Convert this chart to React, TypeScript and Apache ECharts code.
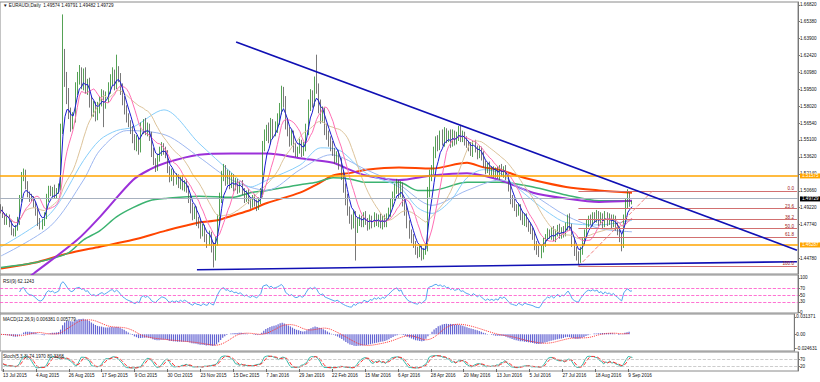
import React, { useEffect, useRef } from "react";
import * as echarts from "echarts";

// ---------- data (prices in 0.001 units above 1.4000) ----------
const dateLabels = [
  "13 Jul 2015", "4 Aug 2015", "26 Aug 2015", "17 Sep 2015", "9 Oct 2015", "30 Oct 2015",
  "23 Nov 2015", "15 Dec 2015", "7 Jan 2016", "29 Jan 2016", "22 Feb 2016", "15 Mar 2016",
  "6 Apr 2016", "28 Apr 2016", "20 May 2016", "13 Jun 2016", "5 Jul 2016", "27 Jul 2016",
  "18 Aug 2016", "9 Sep 2016",
];
const firstOpenK = 92;
const closeK = [
  90, 85, 80, 83, 78, 72, 70, 74, 80, 100, 118, 122, 112, 104, 100, 99,
  95, 88, 80, 76, 78, 85, 100, 108, 105, 108, 103, 106, 110, 160, 215, 205,
  190, 175, 165, 170, 195, 205, 210, 200, 208, 195, 200, 185, 175, 180, 172, 178,
  185, 190, 182, 188, 195, 203, 208, 200, 210, 205, 195, 185, 178, 170, 165, 160,
  152, 145, 150, 143, 160, 165, 158, 162, 155, 140, 132, 128, 135, 140, 145, 142,
  138, 125, 118, 122, 115, 118, 112, 116, 110, 113, 108, 100, 92, 85, 90, 80,
  78, 70, 74, 66, 62, 68, 58, 50, 62, 80, 100, 118, 125, 115, 120, 112,
  118, 110, 114, 108, 112, 106, 100, 104, 98, 95, 100, 96, 93, 98, 105, 145,
  155, 160, 152, 165, 158, 162, 168, 178, 192, 185, 165, 158, 150, 155, 145, 140,
  142, 148, 140, 145, 160, 180, 190, 185, 200, 195, 180, 170, 175, 160, 155, 150,
  145, 140, 135, 138, 130, 120, 110, 100, 90, 82, 78, 85, 75, 80, 82, 78,
  85, 80, 76, 82, 78, 84, 79, 83, 77, 82, 78, 84, 88, 95, 102, 108,
  112, 105, 110, 98, 90, 78, 70, 65, 60, 55, 52, 56, 50, 54, 57, 105,
  120, 125, 140, 150, 145, 155, 150, 158, 152, 155, 148, 156, 150, 154, 160, 152,
  155, 150, 147, 145, 140, 147, 143, 138, 142, 137, 130, 125, 128, 123, 125, 121,
  124, 120, 126, 122, 125, 119, 110, 100, 96, 92, 88, 92, 85, 80, 84, 78,
  75, 72, 68, 60, 55, 52, 56, 62, 66, 70, 68, 72, 66, 70, 74, 68,
  72, 70, 76, 82, 75, 62, 55, 50, 47, 55, 62, 70, 78, 82, 80, 85,
  82, 86, 80, 84, 78, 85, 80, 83, 78, 82, 76, 72, 66, 60, 82, 95,
  103, 95.74, 97.29,
];
const wickUp = [
  3, 3, 2, 4, 3, 3, 2, 3, 4, 3, 5, 4, 3, 3, 2, 4,
  3, 2, 3, 3, 4, 3, 4, 3, 3, 2, 4, 3, 3, 5, 45, 15,
  5, 6, 4, 5, 6, 5, 6, 4, 5, 6, 4, 5, 4, 5, 4, 6,
  4, 5, 4, 5, 6, 5, 6, 4, 15, 5, 4, 5, 4, 3, 4, 3,
  3, 4, 5, 3, 6, 4, 5, 4, 3, 3, 4, 3, 4, 5, 4, 3,
  3, 4, 3, 4, 3, 4, 3, 3, 4, 3, 4, 3, 3, 4, 3, 3,
  4, 3, 4, 3, 3, 4, 3, 4, 5, 6, 5, 6, 5, 4, 5, 4,
  4, 3, 4, 3, 3, 4, 3, 3, 4, 3, 3, 4, 3, 3, 4, 5,
  5, 4, 6, 5, 4, 5, 6, 5, 6, 5, 4, 5, 4, 5, 4, 3,
  3, 4, 3, 4, 5, 6, 5, 4, 6, 25, 5, 6, 5, 4, 5, 4,
  4, 5, 4, 3, 4, 5, 4, 3, 4, 3, 4, 5, 4, 3, 4, 3,
  3, 4, 3, 4, 3, 4, 3, 3, 4, 3, 4, 3, 4, 5, 4, 5,
  5, 4, 5, 4, 3, 4, 3, 3, 4, 3, 3, 4, 3, 3, 4, 5,
  5, 4, 5, 4, 5, 4, 5, 4, 3, 4, 5, 4, 3, 4, 3, 4,
  4, 3, 4, 3, 4, 3, 4, 3, 4, 3, 4, 3, 3, 4, 3, 3,
  3, 4, 3, 4, 3, 4, 3, 4, 3, 4, 3, 4, 3, 4, 3, 3,
  3, 4, 3, 4, 3, 4, 3, 4, 3, 4, 3, 3, 4, 3, 3, 4,
  3, 4, 3, 4, 5, 3, 4, 3, 4, 3, 4, 3, 4, 3, 4, 3,
  3, 4, 3, 4, 3, 4, 3, 4, 3, 4, 3, 3, 4, 3, 4, 5,
  5, 2, 0.62,
];
const wickDn = [
  3, 2, 3, 3, 3, 4, 3, 3, 2, 3, 3, 3, 4, 3, 3, 2,
  3, 3, 4, 3, 3, 2, 3, 3, 3, 4, 3, 3, 2, 3, 4, 8,
  8, 6, 7, 5, 4, 5, 6, 5, 6, 4, 5, 6, 5, 4, 5, 4,
  4, 5, 20, 4, 5, 4, 5, 6, 5, 4, 5, 4, 5, 4, 3, 4,
  4, 3, 4, 5, 3, 4, 3, 4, 5, 4, 3, 5, 4, 3, 3, 4,
  3, 3, 4, 3, 4, 3, 3, 4, 3, 4, 3, 4, 5, 4, 3, 4,
  4, 5, 3, 4, 5, 3, 5, 10, 4, 3, 3, 4, 3, 4, 3, 4,
  3, 4, 3, 4, 3, 3, 4, 3, 3, 4, 3, 3, 4, 3, 3, 4,
  4, 5, 4, 5, 6, 4, 5, 4, 5, 6, 5, 4, 5, 4, 5, 4,
  4, 3, 4, 3, 4, 5, 4, 6, 5, 4, 6, 5, 4, 5, 4, 5,
  4, 3, 5, 4, 5, 4, 5, 6, 5, 4, 5, 4, 29, 5, 4, 3,
  3, 3, 4, 3, 4, 3, 3, 4, 3, 4, 3, 3, 3, 4, 3, 4,
  4, 5, 4, 5, 5, 4, 5, 4, 3, 4, 4, 3, 4, 3, 3, 3,
  4, 5, 4, 5, 4, 3, 4, 5, 4, 3, 4, 3, 4, 3, 4, 3,
  3, 4, 3, 4, 3, 4, 3, 4, 3, 4, 3, 4, 3, 3, 4, 3,
  3, 3, 4, 3, 4, 3, 4, 5, 4, 3, 4, 3, 4, 3, 4, 3,
  4, 3, 4, 5, 4, 3, 4, 3, 4, 3, 3, 4, 3, 4, 3, 3,
  3, 4, 3, 4, 3, 4, 5, 4, 5, 3, 4, 3, 4, 3, 3, 4,
  3, 3, 4, 3, 4, 3, 4, 3, 4, 3, 4, 4, 4, 6, 3, 4,
  4, 3, 0.92,
];
// slow moving averages: [bar index, value in 0.001 above 1.4]
const purpleMA = [[0, 13], [16, 35], [37, 64], [48, 84], [64, 116], [72, 125], [80, 131], [96, 138], [112, 139], [129, 139], [145, 135], [161, 131], [169, 125], [177, 120], [193, 116], [209, 120], [226, 122], [242, 116], [258, 105], [274, 100], [290, 97], [306, 98]];
const greenMA = [[0, 40], [16, 44], [32, 52], [40, 64], [48, 72], [56, 84], [64, 92], [72, 98], [80, 100], [96, 102], [112, 101], [121, 105], [129, 107], [145, 112], [153, 114], [161, 118], [169, 117], [177, 114], [193, 114], [202, 107], [209, 107], [226, 114], [242, 114], [258, 110], [274, 103], [290, 98], [306, 98]];
const redMA = [[0, 39], [16, 44], [32, 52], [48, 58], [64, 64], [80, 72], [96, 79], [105, 81], [112, 85], [121, 90], [129, 96], [145, 105], [153, 112], [161, 120], [169, 122], [177, 125], [193, 127], [209, 126], [226, 131], [234, 127], [242, 125], [250, 120], [258, 116], [274, 110], [290, 107], [306, 105]];
const lightBlueA = [[0, 58], [24, 87], [40, 133], [48, 151], [56, 159], [64, 162], [79, 177], [96, 148], [112, 122], [121, 110], [129, 116], [145, 129], [155, 144], [164, 142], [177, 122], [193, 110], [202, 92], [209, 87], [218, 98], [226, 118], [234, 125], [242, 122], [250, 110], [258, 98], [266, 87], [274, 79], [290, 77], [306, 81]];
const lightBlueB = [[0, 50], [24, 76], [40, 116], [48, 142], [61, 159], [80, 155], [96, 136], [112, 116], [129, 107], [145, 125], [160, 138], [177, 125], [193, 112], [209, 94], [226, 107], [242, 116], [258, 103], [274, 85], [290, 74], [306, 71]];

const priceTicks = [1.6682, 1.6538, 1.639, 1.6242, 1.6098, 1.595, 1.5802, 1.5654, 1.551, 1.5362, 1.5214, 1.5066, 1.4922, 1.4774, 1.4478, 1.4334];
const levelLines = [1.51575, 1.46287];
const fibLow = 1.441;
const fibHigh = 1.5066;
const fibStartBar = 280;
const fibEndBar = 316;
const fibRatios = [0, 23.6, 38.2, 50, 61.8, 100];
const trendUpper = [[114, 1.636], [386, 1.455]];
const trendLower = [[95, 1.438], [386, 1.445]];
const rsiLevels = [70, 50, 30];
const rsiTicks = [100, 70, 50, 30, 0];
const macdTicks = [0.031371, 0, -0.024631];
const stochLevels = [70, 20];
const stochTicks = [100, 70, 20, 0];
const panelTitles = ["RSI(9) 62.1243", "MACD(12,26,9) 0.006381 0.005779", "Stoch(5,3,3) 74.1970 80.3368"];

// ---------- helpers ----------
const N = 387;
const FONT = "Liberation Sans, DejaVu Sans, sans-serif";
const FS = 4.6;
const P = (k: number) => 1.4 + k / 1000;

function sma(a: number[], n: number) {
  return a.map((_, i) => {
    const s = Math.max(0, i - n + 1);
    let t = 0;
    for (let j = s; j <= i; j++) t += a[j];
    return t / (i - s + 1);
  });
}
function ema(a: number[], n: number) {
  const k = 2 / (n + 1);
  const out: number[] = [];
  a.forEach((v, i) => out.push(i === 0 ? v : out[i - 1] + k * (v - out[i - 1])));
  return out;
}
function rsi(c: number[], n: number) {
  const out: (number | null)[] = c.map(() => null);
  let ag = 0, al = 0;
  for (let i = 1; i < c.length; i++) {
    const d = c[i] - c[i - 1];
    const g = d > 0 ? d : 0, l = d < 0 ? -d : 0;
    if (i <= n) {
      ag += g / n; al += l / n;
      if (i < n) continue;
    } else {
      ag = (ag * (n - 1) + g) / n; al = (al * (n - 1) + l) / n;
    }
    out[i] = al === 0 ? 100 : 100 - 100 / (1 + ag / al);
  }
  return out;
}

function buildOption() {
  const cats = Array.from({ length: N }, (_, i) => String(i));
  const closes = closeK.map(P);
  const opens = closes.map((c, i) => (i === 0 ? P(firstOpenK) : closes[i - 1]));
  const highs = closes.map((c, i) => Math.max(opens[i], c) + wickUp[i] / 1000);
  const lows = closes.map((c, i) => Math.min(opens[i], c) - wickDn[i] / 1000);
  const last = closes.length - 1;
  const candles = closes.map((c, i) => [opens[i], c, lows[i], highs[i]]);

  const fast = ema(closes, 5);
  const pink = sma(closes, 10);
  const tan = sma(closes, 21);
  const rsiLine = rsi(closes, 9);
  const e12 = ema(closes, 12);
  const e26 = ema(closes, 26);
  const macd = e12.map((v, i) => v - e26[i]);
  const macdSig = sma(macd, 9);
  const kLine = closes.map((_, i) => {
    let num = 0, den = 0;
    for (let j = Math.max(0, i - 2); j <= i; j++) {
      const s = Math.max(0, j - 4);
      const ll = Math.min(...lows.slice(s, j + 1));
      const hh = Math.max(...highs.slice(s, j + 1));
      num += closes[j] - ll;
      den += hh - ll;
    }
    return den ? (num / den) * 100 : 50;
  });
  const dLine = sma(kLine, 3);

  const sampled = (arr: number[][]) => arr.map(([i, k]) => [i, P(k)]);
  const tickInterval = (i: number) => i % 16 === 0 && i / 16 < dateLabels.length;

  const grids = [
    { left: 0, top: 2, width: 798, height: 272 },
    { left: 0, top: 275, width: 798, height: 38 },
    { left: 0, top: 314, width: 798, height: 37 },
    { left: 0, top: 352, width: 798, height: 19 },
  ].map((g) => ({ ...g, show: true, borderColor: "#8a8a8a", borderWidth: 1, backgroundColor: "#fff" }));

  const xAxes = grids.map((_, g) => ({
    type: "category",
    gridIndex: g,
    data: cats,
    boundaryGap: true,
    axisLine: { show: false },
    axisTick: {
      show: g === 3, interval: tickInterval, alignWithLabel: true, length: 3,
      lineStyle: { color: "#666" },
    },
    axisLabel: {
      show: g === 3, interval: tickInterval, align: "left", margin: 2,
      fontSize: FS, fontFamily: FONT, color: "#111", lineHeight: 5,
      formatter: (_v: string, idx: number) => (idx % 16 === 0 ? dateLabels[idx / 16] || "" : ""),
    },
    splitLine: { show: false },
  }));

  const yBase = (g: number, min: number, max: number, ticks: number[], fmt: (v: number) => string) => ({
    type: "value",
    gridIndex: g,
    position: "right",
    min, max,
    splitLine: { show: false },
    axisLine: { show: true, lineStyle: { color: "#777" } },
    axisTick: { show: true, customValues: ticks, length: 2, lineStyle: { color: "#777" } },
    axisLabel: {
      customValues: ticks, formatter: fmt, fontSize: FS, fontFamily: FONT, color: "#111", margin: 2, lineHeight: 5,
    },
  });

  const yAxes = [
    yBase(0, 1.4343, 1.6708, priceTicks, (v) => v.toFixed(5)),
    yBase(1, -2.9, 108.8, rsiTicks, (v) => String(v)),
    yBase(2, -0.03005, 0.03679, macdTicks, (v) => (v === 0 ? "0.00" : v.toFixed(6))),
    yBase(3, -14, 121, stochTicks, (v) => String(v)),
  ];

  const boxLabel = (v: number, bg: string) => ({
    show: true, position: "end", formatter: v.toFixed(5), backgroundColor: bg, color: "#fff",
    fontSize: FS, fontFamily: FONT, padding: [0, 2, 0, 2], lineHeight: 5, distance: 2, offset: [0, 0.5],
  });

  const markData: any[] = [
    ...levelLines.map((v) => ({
      yAxis: v, lineStyle: { color: "#ffa500", width: 1.5, type: "solid" }, label: boxLabel(v, "#ffa500"),
    })),
    {
      yAxis: closes[last], lineStyle: { color: "#a7b1bf", width: 1, type: "solid" }, label: boxLabel(closes[last], "#000"),
    },
    ...fibRatios.map((r) => {
      const v = fibHigh - (r / 100) * (fibHigh - fibLow);
      return [
        {
          coord: [String(fibStartBar), v],
          lineStyle: { color: "#d27070", width: 1, type: "solid" },
          label: {
            show: true, position: "insideEndTop", formatter: r.toFixed(1), color: "#a02020",
            fontSize: FS, fontFamily: FONT, distance: [3, 0],
          },
        },
        { coord: [String(N - 1), v] },
      ];
    }),
    [
      { coord: [String(fibStartBar), fibLow], lineStyle: { color: "#f08080", width: 1, type: "dashed" }, label: { show: false } },
      { coord: [String(fibEndBar), fibHigh] },
    ],
    [
      { coord: [String(trendUpper[0][0]), trendUpper[0][1]], lineStyle: { color: "#1010b4", width: 1.6, type: "solid" }, label: { show: false } },
      { coord: [String(trendUpper[1][0]), trendUpper[1][1]] },
    ],
    [
      { coord: [String(trendLower[0][0]), trendLower[0][1]], lineStyle: { color: "#1010b4", width: 1.6, type: "solid" }, label: { show: false } },
      { coord: [String(trendLower[1][0]), trendLower[1][1]] },
    ],
  ];

  const line = (data: any[], color: string, width: number, z = 3, extra: any = {}) => ({
    type: "line", xAxisIndex: 0, yAxisIndex: 0, data, showSymbol: false, symbol: "none",
    lineStyle: { color, width }, z, silent: true, ...extra,
  });

  const levelMark = (levels: number[], color: string, type: string) => ({
    silent: true, symbol: "none", label: { show: false },
    lineStyle: { color, width: 0.8, type },
    data: levels.map((v) => ({ yAxis: v })),
  });

  const titleStyle = { fontSize: FS, fontWeight: "normal", color: "#111", fontFamily: FONT };
  const o = opens[last], h = highs[last], l = lows[last], c = closes[last];

  return {
    animation: false,
    backgroundColor: "#fff",
    title: [
      { text: `\u25BC EURAUDi,Daily  ${o.toFixed(5)} ${h.toFixed(5)} ${l.toFixed(5)} ${c.toFixed(5)}`, left: 3, top: 3, padding: 0, textStyle: titleStyle },
      { text: panelTitles[0], left: 3, top: 279, padding: 0, textStyle: titleStyle },
      { text: panelTitles[1], left: 3, top: 317, padding: 0, textStyle: titleStyle },
      { text: panelTitles[2], left: 3, top: 354, padding: 0, textStyle: titleStyle },
    ],
    grid: grids,
    xAxis: xAxes,
    yAxis: yAxes,
    series: [
      line(sampled(redMA), "#ff4500", 2, 2, { smooth: 0.3 }),
      line(sampled(greenMA), "#3cb371", 1.5, 2, { smooth: 0.3 }),
      line(sampled(purpleMA), "#9b30d9", 2, 2, { smooth: 0.3 }),
      line(sampled(lightBlueB), "#9db7f0", 1, 2, { smooth: 0.3 }),
      line(sampled(lightBlueA), "#87cefa", 1, 2, { smooth: 0.3 }),
      {
        type: "candlestick", xAxisIndex: 0, yAxisIndex: 0, data: candles, barWidth: 1.3, z: 3, silent: true,
        itemStyle: { color: "#2a8a2a", color0: "#555555", borderColor: "#2a8a2a", borderColor0: "#555555", borderWidth: 0.8 },
      },
      line(tan, "#dcc39a", 1, 4),
      line(pink, "#ff6eb4", 1, 4),
      line(fast, "#1a1ad0", 1, 4),
      {
        type: "line", xAxisIndex: 0, yAxisIndex: 0, data: [], z: 5, silent: true,
        markLine: { silent: true, symbol: "none", data: markData },
      },
      {
        type: "line", xAxisIndex: 1, yAxisIndex: 1, data: rsiLine, showSymbol: false, symbol: "none",
        lineStyle: { color: "#55a6f0", width: 1 }, silent: true,
        markLine: levelMark(rsiLevels, "#ff4fc8", "dashed"),
      },
      {
        type: "bar", xAxisIndex: 2, yAxisIndex: 2, data: macd, barWidth: 1.2, silent: true,
        itemStyle: { color: "#6464d2" },
      },
      {
        type: "line", xAxisIndex: 2, yAxisIndex: 2, data: macdSig, showSymbol: false, symbol: "none",
        lineStyle: { color: "#ff3030", width: 1, type: "dotted" }, silent: true,
      },
      {
        type: "line", xAxisIndex: 3, yAxisIndex: 3, data: kLine, showSymbol: false, symbol: "none",
        lineStyle: { color: "#38b8a8", width: 1 }, silent: true,
        markLine: levelMark(stochLevels, "#c0c0c0", "dashed"),
      },
      {
        type: "line", xAxisIndex: 3, yAxisIndex: 3, data: dLine, showSymbol: false, symbol: "none",
        lineStyle: { color: "#ff3030", width: 1, type: "dashed" }, silent: true,
      },
    ],
  };
}

export default function App() {
  const ref = useRef<HTMLDivElement>(null);
  useEffect(() => {
    const chart = echarts.init(ref.current!, null, { renderer: "svg" });
    chart.setOption(buildOption() as any);
    return () => chart.dispose();
  }, []);
  return (
    <div
      ref={ref}
      style={{ position: "absolute", left: 0, top: 0, width: 820, height: 382, background: "#fff" }}
    />
  );
}
